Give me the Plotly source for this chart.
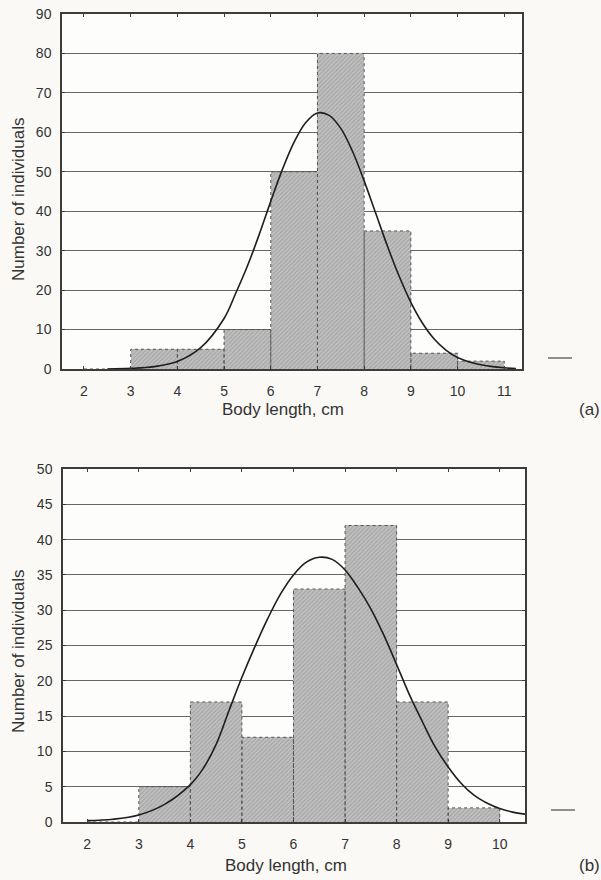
import plotly.graph_objects as go

# ---------------- data ----------------
bin_edges_a = [2, 3, 4, 5, 6, 7, 8, 9, 10, 11]
counts_a = [0, 5, 5, 10, 50, 80, 35, 4, 2]
curve_x_a = [2.5, 3.0, 3.5, 4.0, 4.5, 5.0, 5.25, 5.5, 5.75, 6.0, 6.25, 6.5, 6.75,
             7.0, 7.25, 7.5, 7.75, 8.0, 8.25, 8.5, 8.75, 9.0, 9.25, 9.5, 9.75,
             10.0, 10.25, 10.5, 10.75, 11.0, 11.25]
curve_y_a = [0.0, 0.15, 0.6, 1.9, 5.4, 12.8, 19.2, 26.1, 34.0, 42.5, 50.6, 57.5, 62.5,
             64.9, 64.3, 61.0, 55.2, 47.7, 39.4, 31.1, 23.5, 16.9, 11.6, 7.6, 4.8,
             2.9, 1.8, 1.1, 0.6, 0.3, 0.1]
xticks_a = [2, 3, 4, 5, 6, 7, 8, 9, 10, 11]
yticks_a = [0, 10, 20, 30, 40, 50, 60, 70, 80, 90]

bin_edges_b = [2, 3, 4, 5, 6, 7, 8, 9, 10]
counts_b = [0, 5, 17, 12, 33, 42, 17, 2]
curve_x_b = [2.0, 2.5, 3.0, 3.5, 4.0, 4.25, 4.5, 4.75, 5.0, 5.25, 5.5, 5.75, 6.0,
             6.25, 6.5, 6.75, 7.0, 7.25, 7.5, 7.75, 8.0, 8.25, 8.5, 8.75, 9.0,
             9.25, 9.5, 9.75, 10.0, 10.25, 10.5]
curve_y_b = [0.2, 0.4, 1.0, 2.5, 5.3, 7.6, 11.0, 15.8, 20.5, 24.8, 28.8, 32.3, 35.0,
             36.8, 37.5, 37.2, 35.7, 33.2, 30.2, 26.5, 22.3, 18.0, 14.2, 10.6, 7.8,
             5.5, 3.8, 2.7, 1.9, 1.4, 1.1]
xticks_b = [2, 3, 4, 5, 6, 7, 8, 9, 10]
yticks_b = [0, 5, 10, 15, 20, 25, 30, 35, 40, 45, 50]

x_title = "Body length, cm"
y_title = "Number of individuals"

# ---------------- helpers ----------------
FONT = "Liberation Sans, Arial, sans-serif"
TXT = "#333333"
W, H = 601, 880
PAPER = "#fbf9f5"


def centers(edges):
    return [(edges[i] + edges[i + 1]) / 2 for i in range(len(edges) - 1)]


def widths(edges):
    return [edges[i + 1] - edges[i] for i in range(len(edges) - 1)]


def outline(edges, counts):
    xs, ys = [], []
    for i, c in enumerate(counts):
        l, r = edges[i], edges[i + 1]
        xs += [l, l, r, r, None]
        ys += [0, c, c, 0, None]
    return xs, ys


fig = go.Figure()

for edges, counts, cx, cy, xa, ya in [
    (bin_edges_a, counts_a, curve_x_a, curve_y_a, "x", "y"),
    (bin_edges_b, counts_b, curve_x_b, curve_y_b, "x2", "y2"),
]:
    fig.add_trace(go.Bar(
        x=centers(edges), y=counts, width=widths(edges),
        xaxis=xa, yaxis=ya,
        marker=dict(color="#bdbdbd", line=dict(width=0),
                    pattern=dict(shape="/", fgcolor="#858585", bgcolor="#c0c0c0",
                                 size=3, solidity=0.35)),
        showlegend=False, hoverinfo="x+y",
    ))
    ox, oy = outline(edges, counts)
    fig.add_trace(go.Scatter(
        x=ox, y=oy, xaxis=xa, yaxis=ya, mode="lines",
        line=dict(color="#555555", width=1, dash="dot"),
        showlegend=False, hoverinfo="skip",
    ))
    fig.add_trace(go.Scatter(
        x=cx, y=cy, xaxis=xa, yaxis=ya, mode="lines",
        line=dict(color="#1e1e1e", width=1.6, shape="spline", smoothing=1.0),
        showlegend=False,
    ))


def xaxis_cfg(domain, rng, ticks, anchor):
    return dict(domain=domain, range=rng, tickmode="array", tickvals=ticks,
                ticktext=[str(t) for t in ticks], showgrid=False, zeroline=False,
                showline=True, linecolor="#3c3c3c", linewidth=1.5, mirror="ticks",
                ticks="inside", ticklen=3, tickcolor="#3c3c3c", anchor=anchor,
                ticklabelstandoff=8,
                tickfont=dict(family=FONT, size=14, color=TXT))


def yaxis_cfg(domain, rng, ticks, anchor):
    return dict(domain=domain, range=rng, tickmode="array", tickvals=ticks,
                ticktext=[str(t) for t in ticks], showgrid=True,
                gridcolor="#666666", gridwidth=1, zeroline=False,
                showline=True, linecolor="#3c3c3c", linewidth=1.5, mirror="ticks",
                ticks="inside", ticklen=3, tickcolor="#3c3c3c", anchor=anchor,
                ticklabelstandoff=6,
                tickfont=dict(family=FONT, size=14, color=TXT))


fig.update_layout(
    width=W, height=H,
    margin=dict(l=0, r=0, t=0, b=0, autoexpand=False),
    paper_bgcolor=PAPER,
    plot_bgcolor="#fdfdfb",
    bargap=0,
    xaxis=xaxis_cfg([62 / W, 522 / W], [1.53, 11.38], xticks_a, "y"),
    yaxis=yaxis_cfg([1 - 369 / H, 1 - 14 / H], [0, 90], yticks_a, "x"),
    xaxis2=xaxis_cfg([63 / W, 525 / W], [1.53, 10.49], xticks_b, "y2"),
    yaxis2=yaxis_cfg([1 - 822 / H, 1 - 469 / H], [0, 50], yticks_b, "x2"),
)

ann = [
    dict(text=x_title, x=283 / W, y=1 - 410 / H),
    dict(text=x_title, x=286 / W, y=1 - 865 / H),
    dict(text=y_title, x=18 / W, y=1 - 200 / H, textangle=-90),
    dict(text=y_title, x=18 / W, y=1 - 652 / H, textangle=-90),
    dict(text="(a)", x=589 / W, y=1 - 410 / H),
    dict(text="(b)", x=589 / W, y=1 - 865 / H),
]
for a in ann:
    fig.add_annotation(xref="paper", yref="paper", showarrow=False,
                       xanchor="center", yanchor="middle",
                       font=dict(family=FONT, size=17, color=TXT), **a)

for (x0, x1, yy) in [(548, 572, 358), (551, 575, 810)]:
    fig.add_shape(type="line", xref="paper", yref="paper",
                  x0=x0 / W, x1=x1 / W, y0=1 - yy / H, y1=1 - yy / H,
                  line=dict(color="#555555", width=1.3))

fig.write_html(
    "out.html",
    config={"displayModeBar": False},
    post_script="document.body.style.margin='0';document.body.style.overflow='hidden';"
                "document.body.style.background='" + PAPER + "';",
)
